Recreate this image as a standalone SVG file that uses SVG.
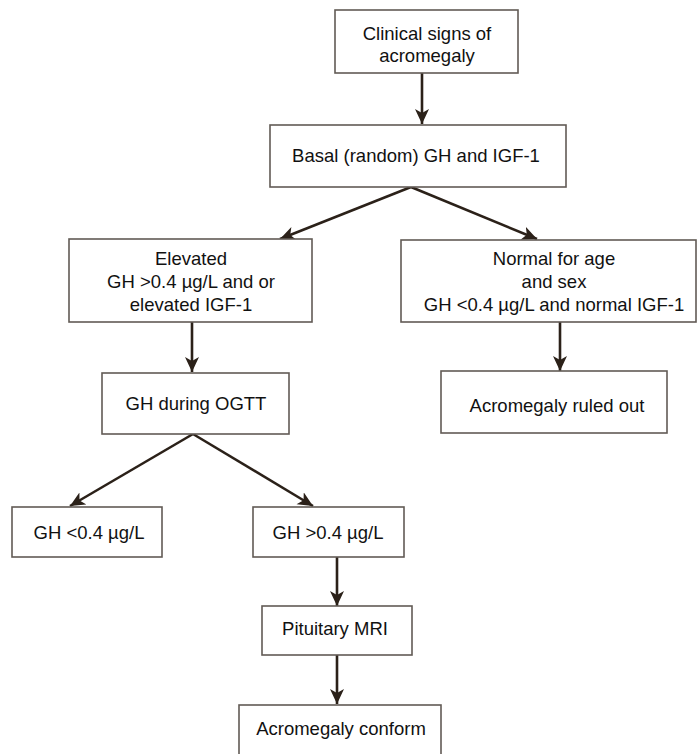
<svg xmlns="http://www.w3.org/2000/svg" width="697" height="754" viewBox="0 0 697 754">
<defs>
<style>
.box{fill:#fff;stroke:#625b55;stroke-width:1.6}
.t{font-family:"Liberation Sans",Arial,sans-serif;font-size:18.5px;fill:#111;text-anchor:middle}
.c{stroke:#2b2119;stroke-width:2.6;fill:none}
</style>
<marker id="ah" markerUnits="userSpaceOnUse" markerWidth="18" markerHeight="16" refX="15" refY="7" orient="auto">
<path d="M0,0 L15,7 L0,14 L4,7 Z" fill="#2b2119"/>
</marker>
</defs>
<rect width="697" height="754" fill="#fff"/>
<g id="connectors">
<line class="c" x1="422" y1="73" x2="422" y2="124" marker-end="url(#ah)"/>
<line class="c" x1="411" y1="187" x2="280" y2="239" marker-end="url(#ah)"/>
<line class="c" x1="411" y1="187" x2="537" y2="239" marker-end="url(#ah)"/>
<line class="c" x1="192" y1="322" x2="192" y2="372" marker-end="url(#ah)"/>
<line class="c" x1="560" y1="322" x2="560" y2="371" marker-end="url(#ah)"/>
<line class="c" x1="193" y1="434" x2="70" y2="506" marker-end="url(#ah)"/>
<line class="c" x1="193" y1="434" x2="313" y2="506" marker-end="url(#ah)"/>
<line class="c" x1="337" y1="557" x2="337" y2="606" marker-end="url(#ah)"/>
<line class="c" x1="337" y1="655" x2="337" y2="704" marker-end="url(#ah)"/>
</g>
<g id="n1"><rect class="box" x="335" y="10" width="183" height="63"/>
<text class="t" x="427" y="40">Clinical signs of</text><text class="t" x="427" y="62">acromegaly</text></g>
<g id="n2"><rect class="box" x="270" y="125" width="296" height="62"/>
<text class="t" x="416" y="162">Basal (random) GH and IGF-1</text></g>
<g id="n3"><rect class="box" x="69" y="239" width="243" height="83"/>
<text class="t" x="191" y="265">Elevated</text><text class="t" x="191" y="288">GH &gt;0.4 µg/L and or</text><text class="t" x="191" y="311">elevated IGF-1</text></g>
<g id="n4"><rect class="box" x="401" y="240" width="295" height="82"/>
<text class="t" x="554" y="265">Normal for age</text><text class="t" x="554" y="288">and sex</text><text class="t" x="554" y="311">GH &lt;0.4 µg/L and normal IGF-1</text></g>
<g id="n5"><rect class="box" x="102" y="373" width="187" height="61"/>
<text class="t" x="196" y="410">GH during OGTT</text></g>
<g id="n6"><rect class="box" x="441" y="371" width="226" height="62"/>
<text class="t" x="557" y="412">Acromegaly ruled out</text></g>
<g id="n7"><rect class="box" x="12" y="507" width="150" height="50"/>
<text class="t" x="89" y="539">GH &lt;0.4 µg/L</text></g>
<g id="n8"><rect class="box" x="253" y="507" width="151" height="50"/>
<text class="t" x="328" y="539">GH &gt;0.4 µg/L</text></g>
<g id="n9"><rect class="box" x="262" y="606" width="150" height="49"/>
<text class="t" x="335" y="635">Pituitary MRI</text></g>
<g id="n10"><rect class="box" x="239" y="705" width="202" height="60"/>
<text class="t" x="341" y="735">Acromegaly conform</text></g>
</svg>
